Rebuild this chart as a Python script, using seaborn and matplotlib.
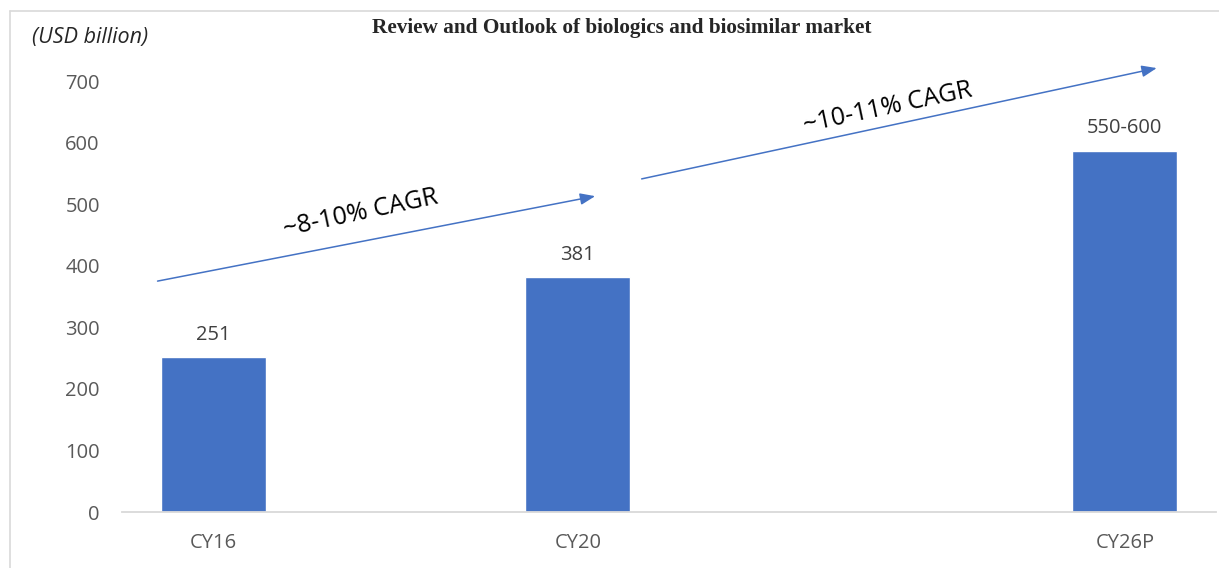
import pandas as pd
import numpy as np
import matplotlib.pyplot as plt
import seaborn as sb
from matplotlib.lines import Line2D

# data
years = [2016, 2020, 2026]
periods = ['CY16', 'CY20', 'CY26P']
market = [251, 381, 587]
bar_labels = ['251', '381', '550-600']
cagr_text = ['~8-10% CAGR', '~10-11% CAGR']

df = pd.DataFrame({'year': years, 'market': market})

sb.set_style('white')
plt.rcParams['font.family'] = ['Open Sans', 'DejaVu Sans']

fig = plt.figure(figsize=(12.19, 5.68), dpi=100)
ax = fig.add_axes([122/1219, 56/568, (1216-122)/1219, (512-81)/568])

sb.barplot(data=df, x='year', y='market', native_scale=True, width=0.2875,
           color='#4472C4', saturation=1, ax=ax)

ax.set_xlim(2015, 2027)
ax.set_ylim(0, 700)
ax.set_yticks(range(0, 701, 100))
ax.set_xticks(years)
ax.set_xticklabels(periods)
ax.tick_params(axis='y', length=0, pad=16, labelsize=14.5, labelcolor='#595959')
ax.tick_params(axis='x', length=0, pad=15, labelsize=14.5, labelcolor='#595959')
ax.set_xlabel('')
ax.set_ylabel('')
for s in ['top', 'right', 'left']:
    ax.spines[s].set_visible(False)
ax.spines['bottom'].set_color('#D9D9D9')
ax.spines['bottom'].set_linewidth(1.3)

ax.bar_label(ax.containers[0], labels=bar_labels, padding=9, fontsize=14.5, color='#404040')

# CAGR arrows
arrows = [((2015.39, 375), (2020.19, 513)), ((2020.70, 541), (2026.35, 721))]
for (start, end), txt in zip(arrows, cagr_text):
    ax.annotate('', xy=end, xytext=start, annotation_clip=False,
                arrowprops=dict(arrowstyle='-|>,head_length=0.9,head_width=0.35',
                                color='#4472C4', lw=1.1, shrinkA=0, shrinkB=0))
ax.text(2017.62, 485, cagr_text[0], rotation=12, ha='center', va='center',
        fontsize=18, color='black')
ax.text(2023.40, 657, cagr_text[1], rotation=12, ha='center', va='center',
        fontsize=18, color='black')

fig.text(622/1219, 1 - 28/568, 'Review and Outlook of biologics and biosimilar market',
         ha='center', va='center', fontsize=15.3, fontweight='bold',
         family='Liberation Serif')
fig.text(32/1219, 1 - 38/568, '(USD billion)', ha='left', va='center',
         fontsize=15.5, style='italic', color='#262626')

# light frame around the chart area
fig.add_artist(Line2D([10/1219, 1], [1 - 11/568, 1 - 11/568], color='#D9D9D9', lw=1.2))
fig.add_artist(Line2D([10/1219, 10/1219], [0, 1 - 11/568], color='#D9D9D9', lw=1.2))

plt.savefig('out.png', dpi=100)
